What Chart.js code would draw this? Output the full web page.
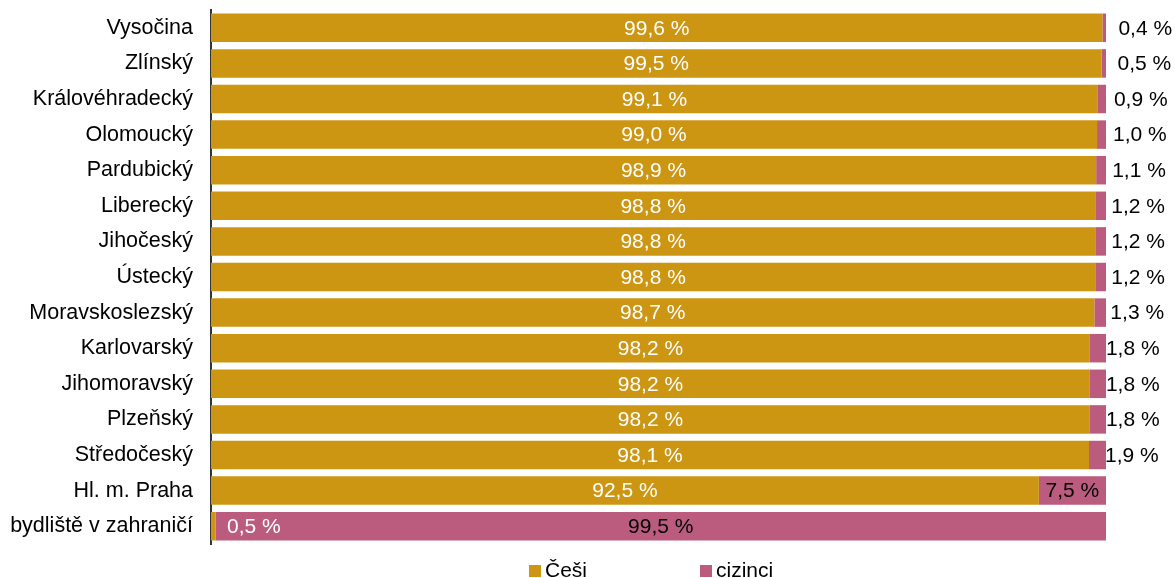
<!DOCTYPE html>
<html>
<head>
<meta charset="utf-8">
<script src="https://cdn.jsdelivr.net/npm/chart.js@4"></script>
<style>
	html, body { margin: 0; padding: 0; background: #fff; }
	#wrap { position: relative; width: 1175px; height: 578px; }
	#legend { position: absolute; left: 0; top: 559px; width: 1175px; height: 22px; font: 21px "Liberation Sans", Arial, sans-serif; color: #000; }
	.item { position: absolute; top: 0; line-height: 22px; white-space: nowrap; }
	.box { display: inline-block; width: 12px; height: 12px; margin-right: 4px; vertical-align: 0px; }
</style>
</head>
<body>
<div id="wrap">
	<canvas id="chart" width="1175" height="578"></canvas>
	<div id="legend"></div>
</div>
<script>
const regions = ['Vysočina', 'Zlínský', 'Královéhradecký', 'Olomoucký', 'Pardubický', 'Liberecký', 'Jihočeský', 'Ústecký', 'Moravskoslezský', 'Karlovarský', 'Jihomoravský', 'Plzeňský', 'Středočeský', 'Hl. m. Praha', 'bydliště v zahraničí'];
const cesi = [99.6, 99.5, 99.1, 99.0, 98.9, 98.8, 98.8, 98.8, 98.7, 98.2, 98.2, 98.2, 98.1, 92.5, 0.5];
const cizinci = [0.4, 0.5, 0.9, 1.0, 1.1, 1.2, 1.2, 1.2, 1.3, 1.8, 1.8, 1.8, 1.9, 7.5, 99.5];

const GOLD = '#CC9613';
const PINK = '#BB5B7E';
const FONT = '"Liberation Sans", Arial, sans-serif';

function fmt(v) {
	return v.toFixed(1).replace('.', ',') + ' %';
}

// value labels: big segments centred, small ones just past the segment start
const valueLabels = {
	id: 'valueLabels',
	afterDatasetsDraw(chart) {
		const ctx = chart.ctx;
		ctx.save();
		ctx.font = '21px ' + FONT;
		ctx.textBaseline = 'middle';
		chart.data.datasets.forEach((ds, di) => {
			const meta = chart.getDatasetMeta(di);
			meta.data.forEach((bar, i) => {
				const v = ds.data[i];
				const start = Math.min(bar.x, bar.base);
				const end = Math.max(bar.x, bar.base);
				ctx.fillStyle = di==0 ? '#fff' : '#000';
				if(v >= 5)
				{
					ctx.textAlign = 'center';
					ctx.fillText(fmt(v), (start+end)/2, bar.y + 1);
				}
				else
				{
					ctx.textAlign = 'left';
					ctx.fillText(fmt(v), start + 16, bar.y + 1);
				}
			});
		});
		ctx.restore();
	}
};

new Chart(document.getElementById('chart'), {
	type: 'bar',
	data: {
		labels: regions,
		datasets: [
			{ label: 'Češi', data: cesi, backgroundColor: GOLD },
			{ label: 'cizinci', data: cizinci, backgroundColor: PINK },
		],
	},
	options: {
		indexAxis: 'y',
		responsive: false,
		animation: false,
		barPercentage: 0.8,
		categoryPercentage: 1,
		layout: { padding: { top: 10, right: 69, bottom: 34, left: 0 } },
		scales: {
			x: {
				stacked: true,
				display: false,
				min: 0,
				max: 100,
			},
			y: {
				stacked: true,
				afterFit: (scale) => {
					scale.width = 211;
					scale.paddingTop = 0;
					scale.paddingBottom = 0;
				},
				grid: { display: false, drawTicks: false },
				border: { display: true, color: '#333', width: 2 },
				ticks: {
					color: '#000',
					padding: 18,
					font: { family: FONT, size: 21.5 },
				},
			},
		},
		plugins: {
			legend: { display: false },
			tooltip: { enabled: false },
		},
	},
	plugins: [valueLabels],
});

// legend below the plot
const legendItems = [
	{ text: 'Češi', color: GOLD, x: 529 },
	{ text: 'cizinci', color: PINK, x: 700 },
];
const legend = document.getElementById('legend');
legendItems.forEach(item => {
	const el = document.createElement('div');
	el.className = 'item';
	el.style.left = item.x + 'px';
	const box = document.createElement('span');
	box.className = 'box';
	box.style.background = item.color;
	el.appendChild(box);
	el.appendChild(document.createTextNode(item.text));
	legend.appendChild(el);
});
</script>
</body>
</html>
